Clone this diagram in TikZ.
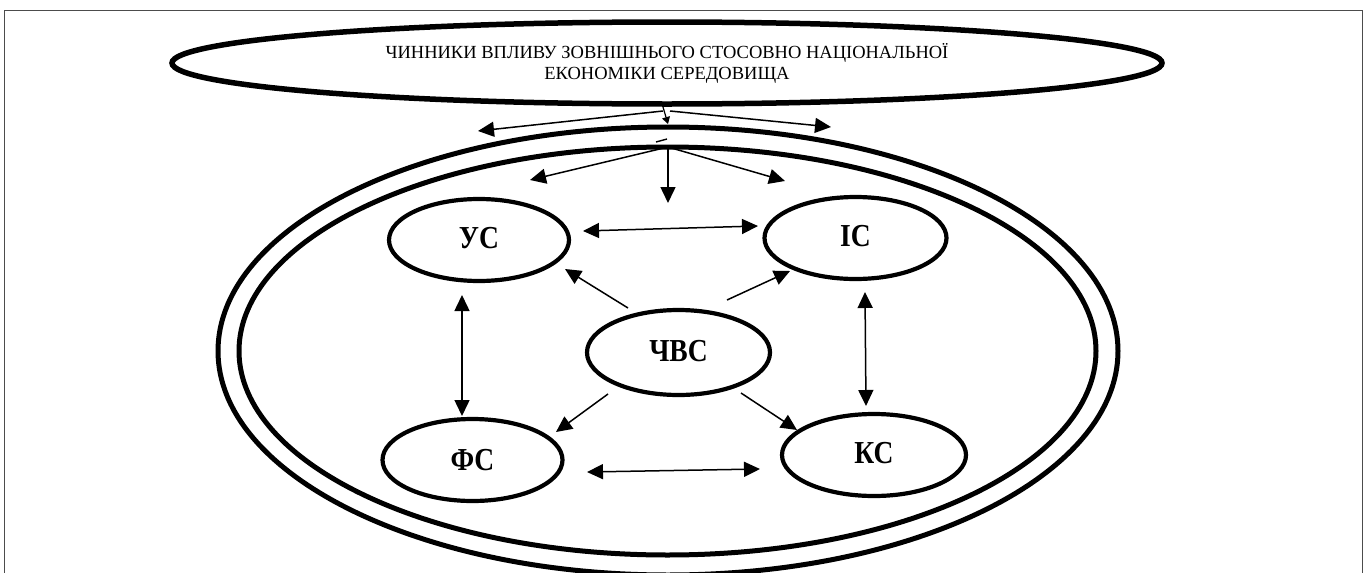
\documentclass[tikz,border=0pt]{standalone}
\usepackage{fontspec}
\usepackage{graphicx}
\setmainfont{Liberation Serif}
\usetikzlibrary{shapes.geometric,arrows.meta}
\newcommand{\lbl}[1]{\raisebox{4pt}{\scalebox{0.86}[1]{#1}}}
\begin{document}
\begin{tikzpicture}[x=1pt,y=-1pt,
  oval/.style={draw,ellipse,line width=4.2pt,inner sep=0pt,minimum width=180pt,minimum height=82pt,
    font=\fontsize{32}{34}\selectfont\bfseries},
  ring/.style={draw,ellipse,line width=5pt,inner sep=0pt},
  arr/.style={line width=1.5pt,-{Triangle[length=16pt,width=15pt]}},
  darr/.style={line width=1.5pt,{Triangle[length=16pt,width=15pt]}-{Triangle[length=16pt,width=15pt]}},
  frame/.style={draw=black!70,line width=1pt}]
\useasboundingbox (0,0) rectangle (1366,573);
\draw[frame] (4,573) -- (4,10) -- (1362,10) -- (1362,573);
% top ellipse
\node[ring,line width=5.5pt,minimum width=990pt,minimum height=82pt,align=center,
  font=\fontsize{18.5}{21}\selectfont] (top) at (667,63)
  {ЧИННИКИ ВПЛИВУ ЗОВНІШНЬОГО СТОСОВНО НАЦІОНАЛЬНОЇ\\ЕКОНОМІКИ СЕРЕДОВИЩА};
% rings
\node[ring,minimum width=900pt,minimum height=448pt] (outer) at (668,351) {};
\node[ring,minimum width=857pt,minimum height=408pt] (inner) at (667.5,351) {};
% small ellipses
\node[oval] (us) at (479,240) {\lbl{УС}};
\node[oval,minimum width=182pt] (is) at (855.5,238) {\lbl{ІС}};
\node[oval,minimum width=183pt,minimum height=85pt] (chv) at (678.5,352.5) {\lbl{ЧВС}};
\node[oval] (fs) at (472.5,460) {\scalebox{0.86}[1]{ФС}};
\node[oval,minimum width=184pt] (ks) at (874,455) {\lbl{КС}};
% top arrows
\coordinate (o1) at (663,111);
\coordinate (o1b) at (670,111);
\coordinate (tl) at (478,131);
\coordinate (tr) at (831,127);
\coordinate (tick) at (663,107);
\coordinate (tickend) at (668,124);
\draw[arr] (o1) -- (tl);
\draw[arr] (o1b) -- (tr);
\draw[line width=1.2pt,-{Triangle[length=7pt,width=8pt]}] (tick) -- (tickend);
\coordinate (o2) at (668,147);
\coordinate (seg) at (656,142);
\coordinate (segb) at (667,139);
\draw[line width=1.4pt] (seg) -- (segb);
\coordinate (dl) at (530,180);
\coordinate (dd) at (668,203);
\coordinate (dr) at (785,181);
\draw[arr] (o2) -- (dl);
\draw[arr] (o2) -- (dd);
\draw[arr] (o2) -- (dr);
% double arrows
\draw[darr] ([shift={(104,-9)}]us.center) -- ([shift={(-97.5,-12)}]is.center);
\draw[darr] ([shift={(-17,55)}]us.center) -- ([shift={(-10.5,-44)}]fs.center);
\draw[darr] ([shift={(9.5,54)}]is.center) -- ([shift={(-8,-49)}]ks.center);
\draw[darr] ([shift={(114.5,12)}]fs.center) -- ([shift={(-114,14)}]ks.center);
% from ЧВС
\draw[arr] ([shift={(-50.5,-44.5)}]chv.center) -- ([shift={(86,29)}]us.center);
\draw[arr] ([shift={(48.5,-52.5)}]chv.center) -- ([shift={(-65.5,33)}]is.center);
\draw[arr] ([shift={(-70.5,41.5)}]chv.center) -- ([shift={(83.5,-28)}]fs.center);
\draw[arr] ([shift={(62.5,40.5)}]chv.center) -- ([shift={(-77,-25)}]ks.center);
\end{tikzpicture}
\end{document}
